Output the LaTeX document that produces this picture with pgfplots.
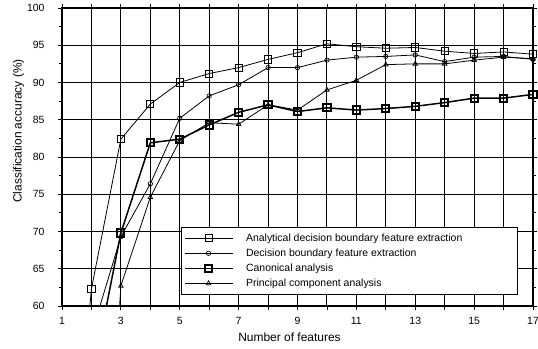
\documentclass[border=0pt]{standalone}
\usepackage{fontspec}
\setmainfont{Liberation Sans}
\usepackage{pgfplots}
\pgfplotsset{compat=1.18}
\begin{document}
\begin{tikzpicture}
\begin{axis}[name=ax,
  scale only axis, width=471bp, height=298bp,
  xmin=1, xmax=17, ymin=60, ymax=100,
  xtick={1,...,17},
  xticklabels={1,,3,,5,,7,,9,,11,,13,,15,,17},
  ytick={60,65,...,100},
  minor y tick num=1,
  grid=major,
  major grid style={black, line width=0.9pt},
  axis line style={black, line width=1.2pt},
  tick align=outside,
  major tick length=4bp, minor tick length=3bp,
  tick style={black, line width=0.8pt},
  /pgf/number format/assume math mode=true,
  ticklabel style={font=\fontsize{10.5}{12}\selectfont},
  xticklabel style={yshift=-4bp},
  yticklabel style={xshift=-10bp},
  xlabel={Number of features},
  ylabel={Classification accuracy (\%)},
  label style={font=\fontsize{12}{14}\selectfont},
  xlabel style={yshift=-1bp, xshift=-8bp},
  ylabel style={yshift=-4bp, xshift=26bp},
  legend cell align=left,
  legend style={at={(0.969,0.037)}, anchor=south east, draw=black, line width=1pt,
    font=\fontsize{10.5}{12}\selectfont, row sep=3bp, inner xsep=2bp, inner ysep=5bp,
    nodes={inner sep=1.5bp}},
  legend image code/.code={\draw[mark repeat=2, mark phase=2] plot coordinates {(0bp,0bp) (24bp,0bp) (48bp,0bp)};\path[draw=none] (52bp,0bp) -- (60bp,0bp);},
]
\addplot[black, line width=0.8pt, mark=square, mark size=3.6bp, mark options={fill=white, line width=0.9pt}]
coordinates {(1,20) (2,62.3) (3,82.4) (4,87.1) (5,90.0) (6,91.2) (7,92.0) (8,93.1) (9,94.0) (10,95.2) (11,94.8) (12,94.6) (13,94.7) (14,94.2) (15,93.9) (16,94.1) (17,93.8)};
\addlegendentry{Analytical decision boundary feature extraction\rule{52bp}{0pt}}
\addplot[black, line width=0.8pt, mark=o, mark size=2.2bp, mark options={fill=white, line width=0.7pt}]
coordinates {(2,56.2) (3,69.3) (4,76.4) (5,85.2) (6,88.2) (7,89.7) (8,92.0) (9,92.0) (10,93.0) (11,93.4) (12,93.5) (13,93.7) (14,92.8) (15,93.4) (16,93.5) (17,93.1)};
\addlegendentry{Decision boundary feature extraction}
\addplot[black, line width=1.5pt, mark=square, mark size=3.6bp, mark options={fill=white, line width=2pt}]
coordinates {(2,49.8) (3,69.8) (4,81.9) (5,82.4) (6,84.3) (7,86.0) (8,87.0) (9,86.1) (10,86.6) (11,86.3) (12,86.5) (13,86.8) (14,87.3) (15,87.9) (16,87.9) (17,88.4)};
\addlegendentry{Canonical analysis}
\addplot[black, line width=0.8pt, mark=triangle, mark size=2.6bp, mark options={fill=white, line width=0.7pt}]
coordinates {(2,0) (3,62.7) (4,74.6) (5,82.2) (6,84.6) (7,84.4) (8,87.0) (9,86.3) (10,89.0) (11,90.3) (12,92.4) (13,92.5) (14,92.5) (15,93.0) (16,93.4) (17,93.2)};
\addlegendentry{Principal component analysis}
\end{axis}
\pgfresetboundingbox
\path ([shift={(-62bp,-43bp)}]ax.south west) rectangle ([shift={(5bp,8bp)}]ax.north east);
\end{tikzpicture}
\end{document}
